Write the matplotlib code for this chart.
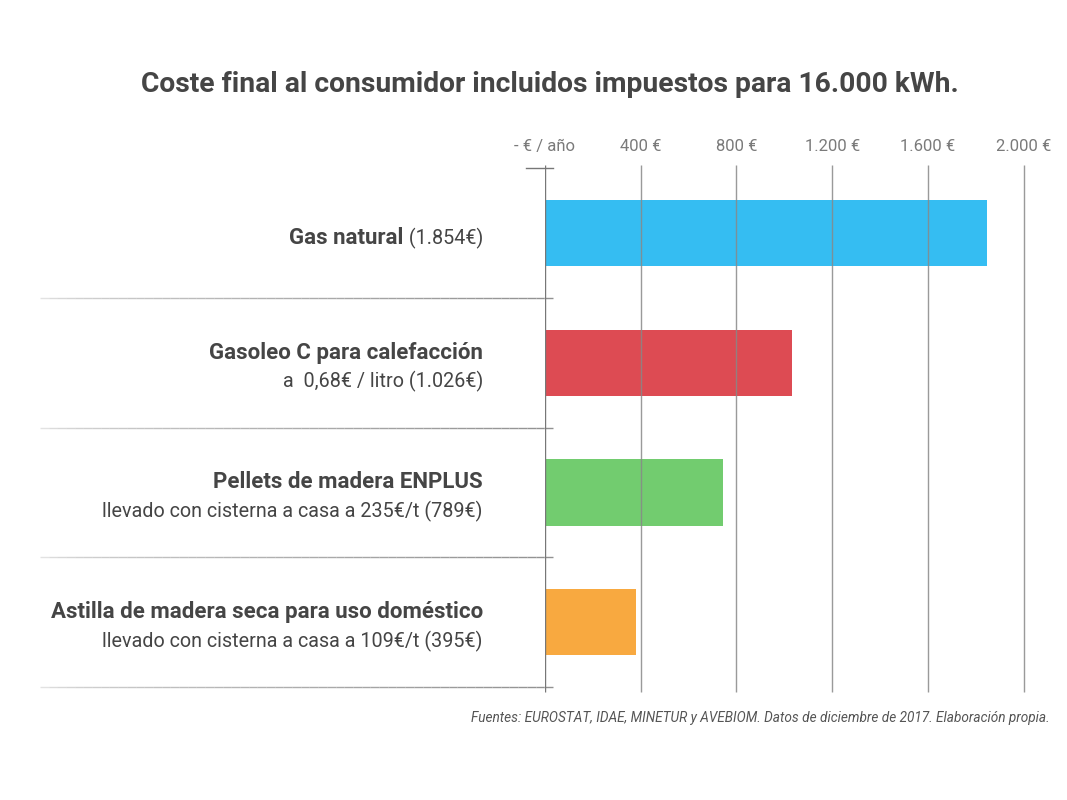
# Coste final al consumidor, barras horizontales

import matplotlib
matplotlib.use('Agg')
import matplotlib.pyplot as plt
import numpy as np
from matplotlib.collections import LineCollection

# datos
categorias = ['Gas natural',
              'Gasoleo C para calefacción',
              'Pellets de madera ENPLUS',
              'Astilla de madera seca para uso doméstico']
subtitulos = [' (1.854€)',
              'a  0,68€ / litro (1.026€)',
              'llevado con cisterna a casa a 235€/t (789€)',
              'llevado con cisterna a casa a 109€/t (395€)']
valores = [1846, 1032, 745, 380]   # longitud de las barras
colores = ['#35BDF2', '#DD4B53', '#72CC6F', '#F8A940']
ticks = [0, 400, 800, 1200, 1600, 2000]
tick_labels = ['- € / año', '400 €', '800 €', '1.200 €', '1.600 €', '2.000 €']

plt.rc('font', family=['Roboto', 'DejaVu Sans'])
texto = '#454545'
gris = '#7a7a7a'

fig = plt.figure(figsize=(10.67, 8), dpi=100)
x0 = 544.8 / 1067
ax = fig.add_axes([x0, 0.125, 1 - x0, 0.675])
ax.set_xlim(0, (1067 - 544.8) / 0.2395)
ax.set_ylim(3.60, -0.563)
ax.axis('off')

y = np.arange(len(categorias))
ax.barh(y, valores, height=0.51, color=colores, zorder=2)

# lineas verticales
ax.vlines(ticks[1:], -0.524, 3.54, color='#888888', lw=1, alpha=0.85, zorder=3)
ax.vlines(0, -0.524, 3.54, color='#777777', lw=1, zorder=3)
for t, lab in zip(ticks, tick_labels):
    ax.text(t, -0.67, lab, ha='center', va='center', fontsize=12, color=gris)

# separadores con degradado
xs = np.linspace(-2108, 34, 60)
for b in [0.5, 1.5, 2.5, 3.5]:
    segs = [[(xs[i], b), (xs[i + 1], b)] for i in range(len(xs) - 1)]
    f = np.linspace(0, 1, len(segs))
    cols = [(0.55, 0.55, 0.55, 0.25 + 0.7 * v ** 0.6) for v in f]
    ax.add_collection(LineCollection(segs, colors=cols, lw=1, clip_on=False))
ax.plot([-80, 34], [-0.5, -0.5], color='#777777', lw=1, clip_on=False)

# etiquetas
fig.canvas.draw()
r = fig.canvas.get_renderer()
xl = (483 - 544.8) / 0.2395
for i, (cat, sub) in enumerate(zip(categorias, subtitulos)):
    if i == 0:
        t = ax.text(xl, i + 0.039, sub, ha='right', va='center', fontsize=14.2,
                    color=texto, clip_on=False)
        bb = t.get_window_extent(r)
        xb = ax.transData.inverted().transform((bb.x0, 0))[0]
        ax.text(xb, i + 0.039, cat, ha='right', va='center', fontsize=16,
                fontweight='bold', color=texto, clip_on=False)
    else:
        ax.text(xl, i - 0.077, cat, ha='right', va='center', fontsize=16,
                fontweight='bold', color=texto, clip_on=False)
        ax.text(xl, i + 0.146, sub, ha='right', va='center', fontsize=14.2,
                color=texto, clip_on=False)

fig.text(550 / 1067, 1 - 85 / 800,
         'Coste final al consumidor incluidos impuestos para 16.000 kWh.',
         ha='center', va='center', fontsize=20.3, fontweight='bold', color=texto)
fig.text(1050 / 1067, 1 - 718 / 800,
         'Fuentes: EUROSTAT, IDAE, MINETUR y AVEBIOM. Datos de diciembre de 2017. Elaboración propia.',
         ha='right', va='center', fontsize=9.8, style='italic', color='#555555')

fig.savefig('out.png', dpi=100)
